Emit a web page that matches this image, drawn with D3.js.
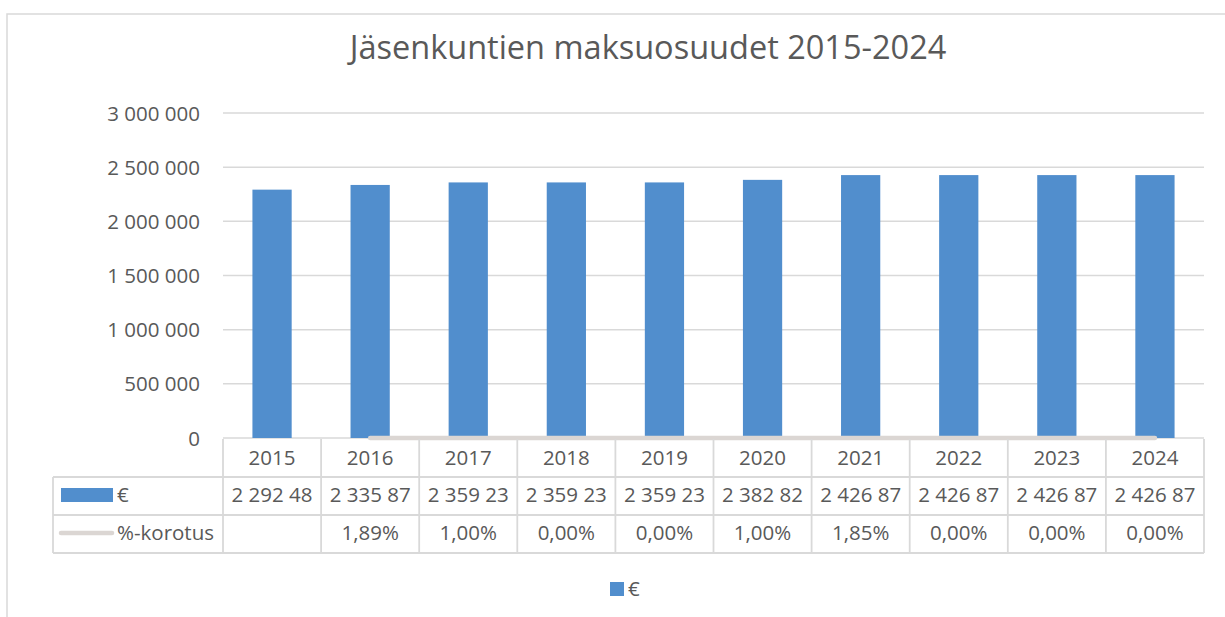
<!DOCTYPE html>
<html><head><meta charset="utf-8">
<script src="https://cdn.jsdelivr.net/npm/d3@7"></script>
<style>body{margin:0;background:#fff}svg{display:block}text{font-family:"Open Sans","Noto Sans",sans-serif;fill:#595959}</style>
</head><body><svg id="c" width="1225" height="617"></svg>
<script>
const title = "Jäsenkuntien maksuosuudet 2015-2024";
const years = ["2015","2016","2017","2018","2019","2020","2021","2022","2023","2024"];
const euros = [2292480, 2335870, 2359230, 2359230, 2359230, 2382820, 2426870, 2426870, 2426870, 2426870];
const euroLabels = ["2 292 48","2 335 87","2 359 23","2 359 23","2 359 23","2 382 82","2 426 87","2 426 87","2 426 87","2 426 87"];
const increase = [null, 1.89, 1.00, 0.00, 0.00, 1.00, 1.85, 0.00, 0.00, 0.00];
const increaseLabels = ["", "1,89%", "1,00%", "0,00%", "0,00%", "1,00%", "1,85%", "0,00%", "0,00%", "0,00%"];
const yTicks = [0, 500000, 1000000, 1500000, 2000000, 2500000, 3000000];
const seriesNames = ["€", "%-korotus"];

const svg = d3.select("#c");
const barColor = "#518ecd", lineColor = "#dbd6d3", gridColor = "#d9d9d9";
const L = 223, R = 1204, T = 113, B = 438;
const rowH = 38;
const fs = 20.5;

// outer border
svg.append("rect").attr("x",7).attr("y",14).attr("width",1240).attr("height",640)
  .attr("fill","none").attr("stroke","#d9d9d9").attr("stroke-width",1.5);

// title
const tt = svg.append("text").attr("x",648).attr("y",59).attr("text-anchor","middle")
  .attr("font-size",28).text(title);
const tw = tt.node().getComputedTextLength();
tt.attr("font-size", 28*597/tw);

const x = d3.scaleBand().domain(years).range([L,R]).paddingInner(0.6).paddingOuter(0.3);
const xc = d3.scaleBand().domain(years).range([L,R]).padding(0);
const y = d3.scaleLinear().domain([0,3000000]).range([B,T]);

// grid
const fmt = v => d3.format(",")(v).replace(/,/g," ");
svg.append("g").selectAll("line").data(yTicks).join("line")
  .attr("x1",L).attr("x2",R).attr("y1",d=>y(d)).attr("y2",d=>y(d))
  .attr("stroke",gridColor).attr("stroke-width",1.5);
svg.append("g").selectAll("text").data(yTicks).join("text")
  .attr("x",200).attr("y",d=>y(d)+7.5).attr("text-anchor","end").attr("font-size",fs)
  .text(d=>fmt(d));

// bars
svg.append("g").selectAll("rect").data(euros).join("rect")
  .attr("x",(d,i)=>x(years[i])).attr("width",x.bandwidth())
  .attr("y",d=>y(d)).attr("height",d=>B-y(d)).attr("fill",barColor);

// line series
const lineGen = d3.line().defined(d=>d.v!=null).x(d=>xc(d.k)+xc.bandwidth()/2).y(d=>y(d.v));
svg.append("path").datum(years.map((k,i)=>({k, v: increase[i]==null?null:increase[i]/100})))
  .attr("d",lineGen).attr("fill","none").attr("stroke",lineColor).attr("stroke-width",4.5)
  .attr("stroke-linecap","round");

// data table
const tg = svg.append("g");
const tl = 53, rows = [B+1, B+1+rowH, B+1+2*rowH, B+1+3*rowH];
function ln(x1,y1,x2,y2){tg.append("line").attr("x1",x1).attr("y1",y1).attr("x2",x2).attr("y2",y2).attr("stroke",gridColor).attr("stroke-width",1.8);}
ln(tl,rows[1],R,rows[1]); ln(tl,rows[2],R,rows[2]); ln(tl,rows[3],R,rows[3]);
ln(tl,rows[1],tl,rows[3]);
years.forEach(k=>ln(xc(k),rows[0],xc(k),rows[3]));
ln(R,rows[0],R,rows[3]);
tg.selectAll("text.yr").data(years).join("text").attr("class","yr")
  .attr("x",k=>xc(k)+xc.bandwidth()/2).attr("y",465).attr("text-anchor","middle")
  .attr("font-size",fs).text(k=>k);
tg.selectAll("text.eu").data(euroLabels).join("text").attr("class","eu")
  .attr("x",(d,i)=>xc(years[i])+xc.bandwidth()/2).attr("y",502).attr("text-anchor","middle")
  .attr("font-size",fs).text(d=>d);
tg.selectAll("text.pc").data(increaseLabels).join("text").attr("class","pc")
  .attr("x",(d,i)=>xc(years[i])+xc.bandwidth()/2).attr("y",540).attr("text-anchor","middle")
  .attr("font-size",fs).text(d=>d);
// row headers
tg.append("rect").attr("x",61).attr("y",488).attr("width",52).attr("height",14).attr("fill",barColor);
tg.append("text").attr("x",117).attr("y",502).attr("font-size",fs).text(seriesNames[0]);
tg.append("line").attr("x1",61).attr("x2",112).attr("y1",533).attr("y2",533).attr("stroke",lineColor)
  .attr("stroke-width",4.5).attr("stroke-linecap","round");
tg.append("text").attr("x",117).attr("y",540).attr("font-size",fs).text(seriesNames[1]);

// legend
svg.append("rect").attr("x",610).attr("y",582).attr("width",14).attr("height",14).attr("fill",barColor);
svg.append("text").attr("x",628).attr("y",596).attr("font-size",fs).text(seriesNames[0]);
</script></body></html>
